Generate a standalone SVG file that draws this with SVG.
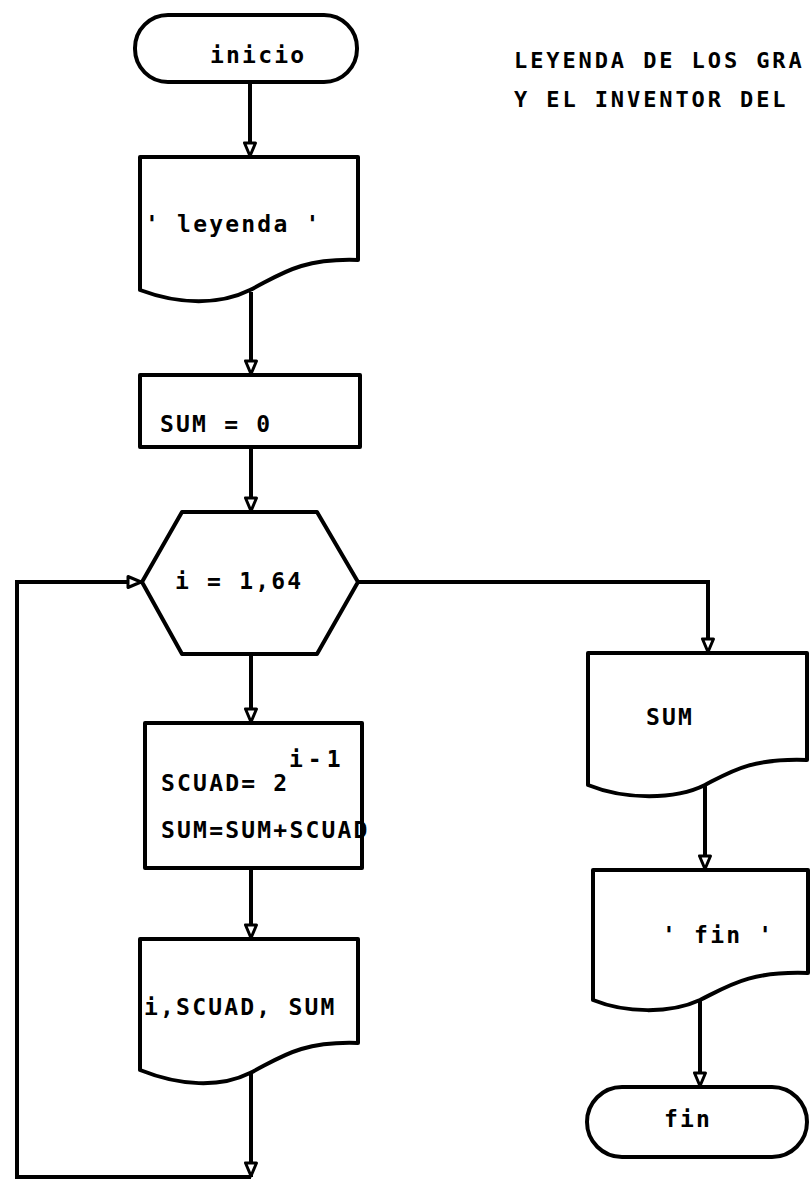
<svg xmlns="http://www.w3.org/2000/svg" width="811" height="1195" viewBox="0 0 811 1195">
<style>
.s{fill:#fff;stroke:#000;stroke-width:4;stroke-linejoin:round}
.c{fill:none;stroke:#000;stroke-width:4}
.t{font-family:"DejaVu Sans Mono","Liberation Mono",monospace;font-size:23px;letter-spacing:2.2px;fill:#000;font-weight:bold}
.h{font-size:22px;letter-spacing:2.9px}
</style>
<defs>
<marker id="ah" viewBox="0 0 17 15" refX="16" refY="7.5" markerWidth="17" markerHeight="15" markerUnits="userSpaceOnUse" orient="auto">
<path d="M2,2 L15,7.5 L2,13 Z" fill="#fff" stroke="#000" stroke-width="3" stroke-linejoin="round"/>
</marker>
</defs>
<rect width="811" height="1195" fill="#fff"/>
<g id="title">
<text class="t h" x="514" y="68">LEYENDA DE LOS GRA</text>
<text class="t h" x="514" y="107">Y EL INVENTOR DEL</text>
</g>
<g id="connectors">
<path class="c" d="M250,82 L250,157" marker-end="url(#ah)"/>
<path class="c" d="M251,292 L251,375" marker-end="url(#ah)"/>
<path class="c" d="M251,447 L251,512" marker-end="url(#ah)"/>
<path class="c" d="M251,654 L251,723" marker-end="url(#ah)"/>
<path class="c" d="M251,868 L251,939" marker-end="url(#ah)"/>
<path class="c" d="M251,1073 L251,1177" marker-end="url(#ah)"/>
<path class="c" d="M251,1177 L17,1177 L17,582 L142,582" marker-end="url(#ah)"/>
<path class="c" d="M358,582 L708,582 L708,653" marker-end="url(#ah)"/>
<path class="c" d="M705,785 L705,870" marker-end="url(#ah)"/>
<path class="c" d="M700,1000 L700,1087" marker-end="url(#ah)"/>
</g>
<g id="inicio">
<rect class="s" x="135" y="15" width="222" height="67" rx="33"/>
<text class="t" x="210" y="63">inicio</text>
</g>
<g id="leyenda">
<path class="s" d="M140,157 H358 V260 C300,258 280,275 250,290 C220,305 180,305 140,290 Z"/>
<text class="t" x="145" y="232">' leyenda '</text>
</g>
<g id="sum0">
<rect class="s" x="140" y="375" width="220" height="72"/>
<text class="t" x="160" y="432">SUM = 0</text>
</g>
<g id="loop">
<polygon class="s" points="182,512 317,512 358,582 317,654 182,654 142,582"/>
<text class="t" x="175" y="589">i = 1,64</text>
</g>
<g id="scuad">
<rect class="s" x="145" y="723" width="217" height="145"/>
<text class="t" x="161" y="791">SCUAD= 2</text>
<text class="t" x="289" y="767" style="letter-spacing:5px">i-1</text>
<text class="t" x="161" y="838">SUM=SUM+SCUAD</text>
</g>
<g id="print">
<path class="s" d="M140,939 H358 V1043 C300,1041 280,1058 250,1073 C220,1088 180,1086 140,1070 Z"/>
<text class="t" x="144" y="1015">i,SCUAD, SUM</text>
</g>
<g id="sumout">
<path class="s" d="M588,653 H807 V760 C750,758 730,772 705,785 C675,800 625,800 588,785 Z"/>
<text class="t" x="646" y="725">SUM</text>
</g>
<g id="finmsg">
<path class="s" d="M593,870 H808 V973 C750,971 730,985 700,1000 C670,1014 625,1013 593,1000 Z"/>
<text class="t" x="662" y="943">' fin '</text>
</g>
<g id="fin">
<rect class="s" x="587" y="1087" width="220" height="70" rx="35"/>
<text class="t" x="664" y="1127">fin</text>
</g>
</svg>
